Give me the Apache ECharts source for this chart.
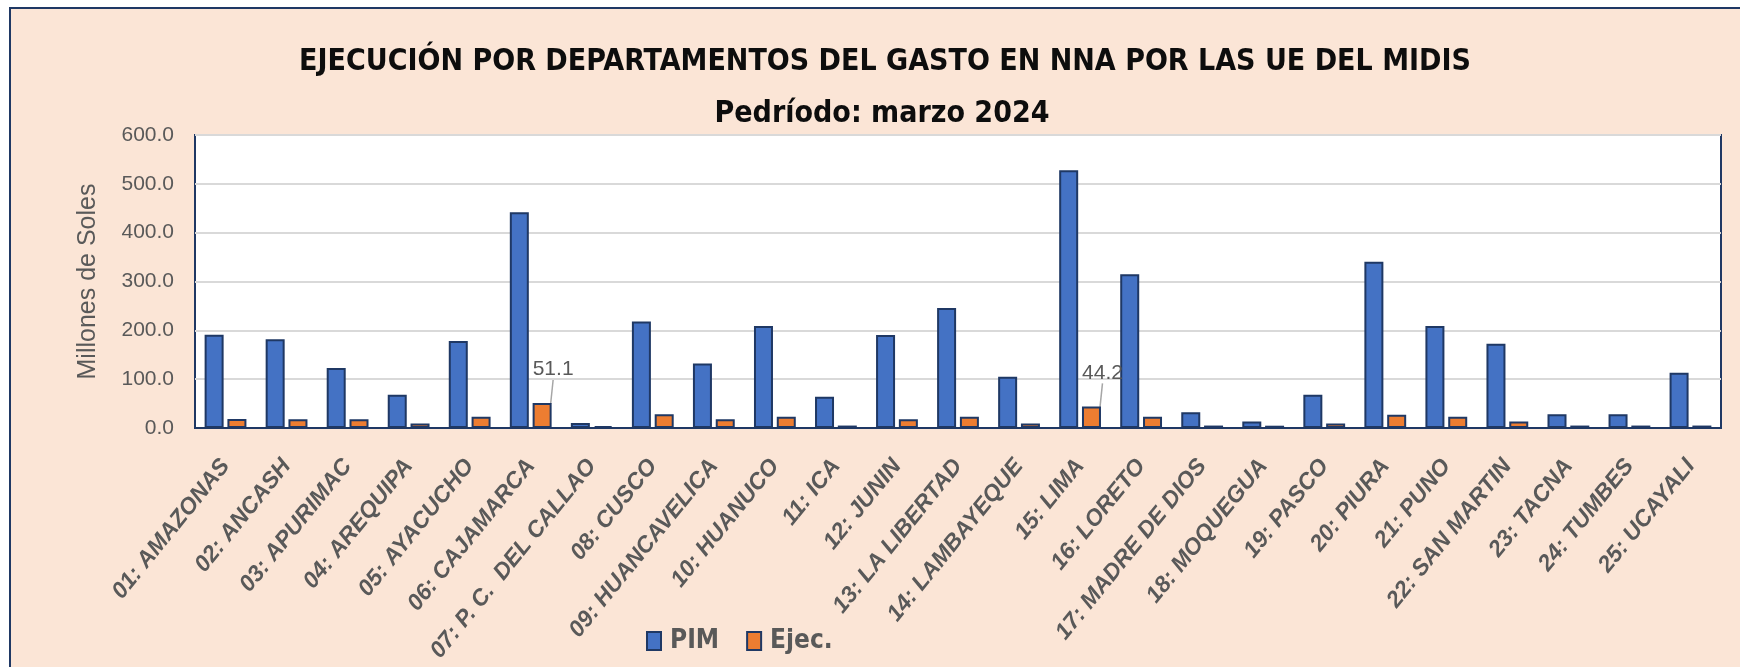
<!DOCTYPE html>
<html>
<head>
<meta charset="utf-8">
<script src="https://cdn.jsdelivr.net/npm/echarts@6/dist/echarts.min.js"></script>
<style>
  html, body { margin: 0; padding: 0; background: #ffffff; }
  #main { width: 1740px; height: 667px; }
</style>
</head>
<body>
<div id="main"></div>
<script type="text/javascript">
    // departamentos y montos (millones de soles)
    var departamentos = [
        '01: AMAZONAS', '02: ANCASH', '03: APURIMAC', '04: AREQUIPA', '05: AYACUCHO',
        '06: CAJAMARCA', '07: P. C.  DEL CALLAO', '08: CUSCO', '09: HUANCAVELICA', '10: HUANUCO',
        '11: ICA', '12: JUNIN', '13: LA LIBERTAD', '14: LAMBAYEQUE', '15: LIMA',
        '16: LORETO', '17: MADRE DE DIOS', '18: MOQUEGUA', '19: PASCO', '20: PIURA',
        '21: PUNO', '22: SAN MARTIN', '23: TACNA', '24: TUMBES', '25: UCAYALI'
    ];
    var pim = [191, 181.5, 123, 68, 178, 441.6, 10, 218, 132, 209, 64, 190.5, 245.8, 105, 527.6,
               314.6, 32, 13.5, 68, 340.6, 209, 172.6, 28, 28, 113];
    var ejec = [18.4, 18, 18, 9, 23, 51.1, 4, 28, 18, 23, 5, 18, 23, 9.4, 44.2,
                23, 5, 4.7, 9.4, 27, 23, 13.5, 5, 5, 5];
    // solo estos valores llevan etiqueta en el original
    var ejecEtiquetados = ['06: CAJAMARCA', '15: LIMA'];

    var navy = '#1F3864';
    var gris = '#595959';
    var cond = "'DejaVu Sans Condensed', 'Liberation Sans', sans-serif";
    var sans = "'Liberation Sans', sans-serif";

    var ejecData = ejec.map(function (v, i) {
        var item = { value: v };
        if (ejecEtiquetados.indexOf(departamentos[i]) >= 0) {
            item.label = { show: true };
            item.labelLine = { show: true };
        }
        return item;
    });

    var myChart = echarts.init(document.getElementById('main'));
    var option = {
        backgroundColor: '#ffffff',
        graphic: [{
            type: 'rect',
            z: -10,
            silent: true,
            shape: { x: 10, y: 8, width: 1800, height: 700 },
            style: { fill: '#FBE5D6', stroke: navy, lineWidth: 2 }
        }],
        title: [{
            text: 'EJECUCIÓN POR DEPARTAMENTOS DEL GASTO EN NNA POR LAS UE DEL MIDIS',
            left: 880,
            top: 42,
            textAlign: 'center',
            textStyle: { fontFamily: cond, fontWeight: 'bold', fontSize: 30, color: '#0D0D0D' }
        }, {
            text: 'Pedríodo: marzo 2024',
            left: 877,
            top: 94,
            textAlign: 'center',
            textStyle: { fontFamily: cond, fontWeight: 'bold', fontSize: 30, color: '#0D0D0D' }
        }],
        legend: {
            data: ['PIM', 'Ejec.'],
            left: 646,
            top: 628,
            padding: 0,
            icon: 'rect',
            itemWidth: 14,
            itemHeight: 18,
            itemGap: 27,
            textStyle: { fontFamily: cond, fontWeight: 'bold', fontSize: 26, color: gris, padding: [0, 0, 0, 4] }
        },
        grid: {
            left: 195,
            right: 19,
            top: 135,
            bottom: 239,
            show: true,
            backgroundColor: '#ffffff',
            borderColor: navy,
            borderWidth: 2
        },
        xAxis: [{
            type: 'category',
            data: departamentos,
            axisTick: { show: false },
            axisLine: { show: true, lineStyle: { color: navy, width: 2 } },
            axisLabel: {
                interval: 0,
                rotate: 51,
                margin: 34,
                fontFamily: sans,
                fontStyle: 'italic',
                fontWeight: 'bold',
                fontSize: 23,
                color: gris
            }
        }],
        yAxis: [{
            type: 'value',
            min: 0,
            max: 600,
            interval: 100,
            name: 'Millones de Soles',
            nameLocation: 'middle',
            nameRotate: 90,
            nameGap: 94,
            nameTextStyle: { fontFamily: sans, fontSize: 25, color: gris },
            axisLine: { show: false },
            axisTick: { show: false },
            axisLabel: {
                margin: 21,
                fontFamily: sans,
                fontSize: 21,
                color: gris,
                formatter: function (v) { return v.toFixed(1); }
            },
            splitLine: { lineStyle: { color: '#D9D9D9', width: 2 } }
        }],
        series: [{
            name: 'PIM',
            type: 'bar',
            barWidth: 19,
            barGap: '20%',
            itemStyle: { color: '#4472C4', borderColor: navy, borderWidth: 2 },
            data: pim
        }, {
            name: 'Ejec.',
            type: 'bar',
            barWidth: 19,
            itemStyle: { color: '#ED7D31', borderColor: navy, borderWidth: 2 },
            label: {
                show: false,
                position: 'top',
                fontFamily: sans,
                fontSize: 21,
                color: gris,
                formatter: function (p) { return p.value.toFixed(1); }
            },
            labelLayout: { dx: 11, dy: -18 },
            labelLine: { show: false, lineStyle: { color: '#A6A6A6', width: 1.5 } },
            data: ejecData
        }]
    };
    myChart.setOption(option);
</script>
</body>
</html>
